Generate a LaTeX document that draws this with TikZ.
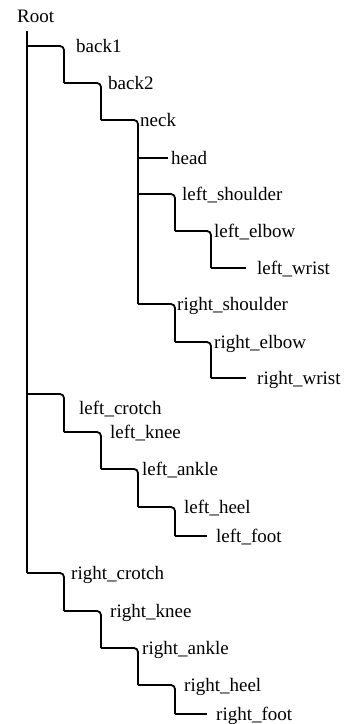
\documentclass[tikz,border=0pt]{standalone}
\usepackage{fontspec}
\setmainfont{Liberation Serif}
\begin{document}
\begin{tikzpicture}[x=1pt,y=-1pt,
  lbl/.style={anchor=base west,inner sep=0pt,font=\fontsize{19}{22}\selectfont},
  conn/.style={line width=1.8pt,rounded corners=4pt}]
\useasboundingbox (0,0) rectangle (345,724);
% junction coordinates (vertical line x, row y)
\coordinate (v-root) at (27,31);
\coordinate (v-back1) at (64,46);
\coordinate (v-back2) at (101,83);
\coordinate (v-neck) at (138,120);
\coordinate (v-head) at (168,158);
\coordinate (v-lsh) at (175,194);
\coordinate (v-lel) at (211,231);
\coordinate (v-lwr) at (246,268);
\coordinate (v-rsh) at (175,304);
\coordinate (v-rel) at (211,342);
\coordinate (v-rwr) at (246,378);
\coordinate (v-lcr) at (64,394);
\coordinate (v-lkn) at (101,432);
\coordinate (v-lan) at (138,469);
\coordinate (v-lhe) at (175,507);
\coordinate (v-lfo) at (207,536);
\coordinate (v-rcr) at (64,573);
\coordinate (v-rkn) at (101,611);
\coordinate (v-ran) at (138,648);
\coordinate (v-rhe) at (175,685);
\coordinate (v-rfo) at (207,714);
% labels
\node[lbl] (root) at (17,22.7) {Root};
\node[lbl] (back1) at (76,52) {back1};
\node[lbl] (back2) at (108,89) {back2};
\node[lbl] (neck) at (140,126) {neck};
\node[lbl] (head) at (171,164) {head};
\node[lbl] (lsh) at (182,200) {left\_shoulder};
\node[lbl] (lel) at (214,237) {left\_elbow};
\node[lbl] (lwr) at (257,274) {left\_wrist};
\node[lbl] (rsh) at (177,310) {right\_shoulder};
\node[lbl] (rel) at (214,348) {right\_elbow};
\node[lbl] (rwr) at (257,384) {right\_wrist};
\node[lbl] (lcr) at (79,414) {left\_crotch};
\node[lbl] (lkn) at (110,438) {left\_knee};
\node[lbl] (lan) at (142,475) {left\_ankle};
\node[lbl] (lhe) at (184,513) {left\_heel};
\node[lbl] (lfo) at (216,542) {left\_foot};
\node[lbl] (rcr) at (71,579) {right\_crotch};
\node[lbl] (rkn) at (110,617) {right\_knee};
\node[lbl] (ran) at (142,654) {right\_ankle};
\node[lbl] (rhe) at (184,691) {right\_heel};
\node[lbl] (rfo) at (216,720) {right\_foot};
% connectors
\draw[line width=1.8pt] (v-root) -- (v-root |- v-rcr);
\draw[conn] (v-root |- v-back1) -- (v-back1) -- (v-back1 |- v-back2);
\draw[conn] (v-back1 |- v-back2) -- (v-back2) -- (v-back2 |- v-neck);
\draw[conn] (v-back2 |- v-neck) -- (v-neck) -- (v-neck |- v-rsh);
\draw[conn] (v-neck |- v-head) -- (v-head);
\draw[conn] (v-neck |- v-lsh) -- (v-lsh) -- (v-lsh |- v-lel);
\draw[conn] (v-lsh |- v-lel) -- (v-lel) -- (v-lel |- v-lwr);
\draw[conn] (v-lel |- v-lwr) -- (v-lwr);
\draw[conn] (v-neck |- v-rsh) -- (v-rsh) -- (v-rsh |- v-rel);
\draw[conn] (v-rsh |- v-rel) -- (v-rel) -- (v-rel |- v-rwr);
\draw[conn] (v-rel |- v-rwr) -- (v-rwr);
\draw[conn] (v-root |- v-lcr) -- (v-lcr) -- (v-lcr |- v-lkn);
\draw[conn] (v-lcr |- v-lkn) -- (v-lkn) -- (v-lkn |- v-lan);
\draw[conn] (v-lkn |- v-lan) -- (v-lan) -- (v-lan |- v-lhe);
\draw[conn] (v-lan |- v-lhe) -- (v-lhe) -- (v-lhe |- v-lfo);
\draw[conn] (v-lhe |- v-lfo) -- (v-lfo);
\draw[conn] (v-root |- v-rcr) -- (v-rcr) -- (v-rcr |- v-rkn);
\draw[conn] (v-rcr |- v-rkn) -- (v-rkn) -- (v-rkn |- v-ran);
\draw[conn] (v-rkn |- v-ran) -- (v-ran) -- (v-ran |- v-rhe);
\draw[conn] (v-ran |- v-rhe) -- (v-rhe) -- (v-rhe |- v-rfo);
\draw[conn] (v-rhe |- v-rfo) -- (v-rfo);
\end{tikzpicture}
\end{document}
